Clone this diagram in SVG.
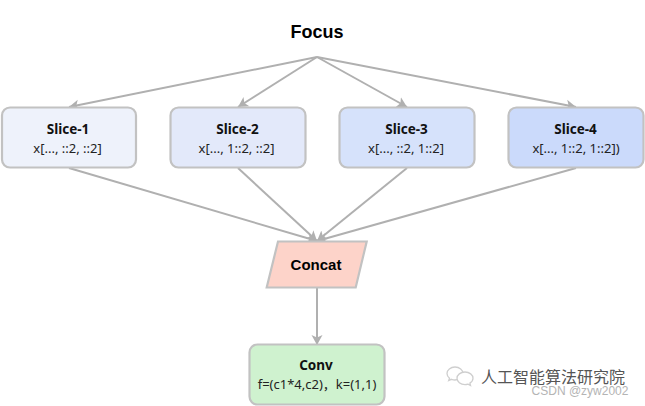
<svg xmlns="http://www.w3.org/2000/svg" width="645" height="406" viewBox="0 0 645 406">
<style>
text{text-anchor:middle}
.n{stroke:#c2c2c2;stroke-width:2.2}
.t{font-family:"Noto Sans",sans-serif;font-weight:700;font-size:13.500px;fill:#111}
.s{font-family:"Noto Sans","Noto Sans CJK SC",sans-serif;font-size:13px;fill:#222}
#connectors line{stroke:#b0b0b0;stroke-width:2;fill:none}
.wm{fill:#fff;stroke:#cfcfcf;stroke-width:1.3}
</style>
<defs>
<marker id="a" markerUnits="userSpaceOnUse" markerWidth="12" markerHeight="12" refX="10" refY="6" orient="auto"><path d="M0 0.500L10 6L0 11.500L2.500 6Z" fill="#b0b0b0"/></marker>
</defs>
<rect width="645" height="406" fill="#fff"/>
<g id="connectors">
<line x1="317" y1="57" x2="69" y2="107" marker-end="url(#a)"/>
<line x1="317" y1="57" x2="238" y2="107" marker-end="url(#a)"/>
<line x1="317" y1="57" x2="407" y2="107" marker-end="url(#a)"/>
<line x1="317" y1="57" x2="576" y2="107" marker-end="url(#a)"/>
<line x1="69" y1="168" x2="317" y2="241" marker-end="url(#a)"/>
<line x1="238" y1="168" x2="317" y2="241" marker-end="url(#a)"/>
<line x1="407" y1="168" x2="317" y2="241" marker-end="url(#a)"/>
<line x1="576" y1="168" x2="317" y2="241" marker-end="url(#a)"/>
<line x1="317" y1="288" x2="317" y2="345" marker-end="url(#a)"/>
</g>
<g id="focus"><text x="317" y="37.500" style="font-family:'Liberation Sans',sans-serif;font-weight:700;font-size:18px;fill:#000">Focus</text></g>
<g id="slice-1"><rect class="n" x="2" y="107.500" width="134" height="60" rx="8" fill="#eef2fb"/><text class="t" x="68" y="134">Slice-1</text><text class="s" x="67.500" y="153">x[..., ::2, ::2]</text></g>
<g id="slice-2"><rect class="n" x="170.500" y="107.500" width="135" height="60" rx="8" fill="#e3e9fa"/><text class="t" x="237.500" y="134">Slice-2</text><text class="s" x="236.500" y="153">x[..., 1::2, ::2]</text></g>
<g id="slice-3"><rect class="n" x="339.500" y="107.500" width="135" height="60" rx="8" fill="#d6e2fb"/><text class="t" x="406.500" y="134">Slice-3</text><text class="s" x="406" y="153">x[..., ::2, 1::2]</text></g>
<g id="slice-4"><rect class="n" x="508.500" y="107.500" width="135" height="60" rx="8" fill="#cbdafb"/><text class="t" x="575.500" y="134">Slice-4</text><text class="s" x="576" y="153">x[..., 1::2, 1::2])</text></g>
<g id="concat"><path class="n" d="M278 241.500H366.700L355.700 287.500H266.700Z" fill="#fdd3c9"/><text x="316" y="270" style="font-family:'Liberation Sans',sans-serif;font-weight:700;font-size:15px;fill:#000">Concat</text></g>
<g id="conv"><rect class="n" x="249.500" y="344.500" width="135" height="60" rx="8" fill="#cff2cf"/><text class="t" x="316" y="370">Conv</text><text class="s" x="317" y="389">f=(c1*4,c2)，k=(1,1)</text></g>
<g id="watermark">
<path class="wm" d="M455 367c-4.500 0-8 3-8 6.500 0 2 1 3.500 2.500 4.800l-.8 2.200 2.700-1.200c1.200.4 2.400.7 3.600.7 4.500 0 8-3 8-6.500s-3.500-6.500-8-6.500Z"/>
<path class="wm" d="M465 372c-4.500 0-8 2.900-8 6.300s3.500 6.300 8 6.300c1 0 2-.2 3-.5l2.500 1.300-.6-2.300c1.900-1.200 3.100-2.900 3.100-4.800 0-3.400-3.500-6.300-8-6.300Z"/>
<text x="553" y="383" style="font-family:'Noto Sans CJK SC',sans-serif;font-size:16px;fill:#555">人工智能算法研究院</text>
<text x="580" y="394.500" style="font-family:'Liberation Sans',sans-serif;font-size:12px;fill:#b4b4b4">CSDN @zyw2002</text>
</g>
</svg>
